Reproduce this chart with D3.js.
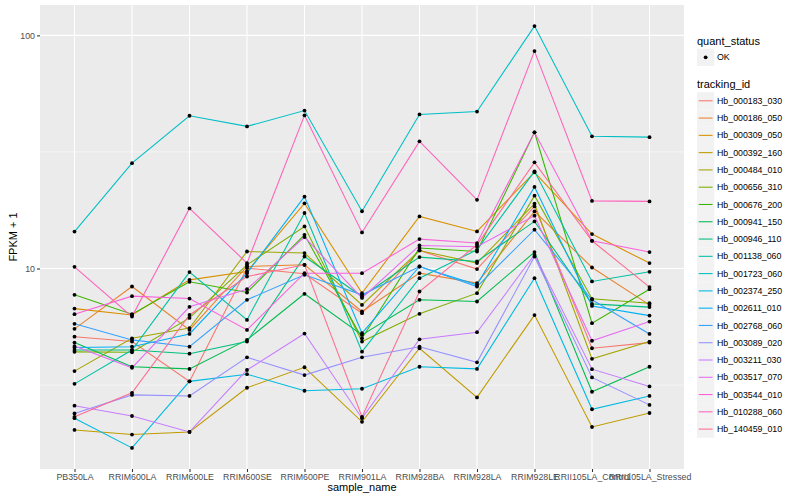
<!DOCTYPE html>
<html>
<head>
<meta charset="utf-8">
<script src="https://cdn.jsdelivr.net/npm/d3@7"></script>
<style>
  body { margin: 0; background: #fff; }
  text { font-family: "Liberation Sans", Arial, sans-serif; }
</style>
</head>
<body>
<div id="chart"></div>
<script>
// categories on the x axis
const samples = ["PB350LA", "RRIM600LA", "RRIM600LE", "RRIM600SE", "RRIM600PE", "RRIM901LA",
  "RRIM928BA", "RRIM928LA", "RRIM928LE", "RRII105LA_Control", "RRII105LA_Stressed"];

// FPKM + 1 per gene, one value per sample
const hb_000183_030 = [5.10, 4.86, 3.28, 10.04, 9.49, 6.43, 11.95, 9.94, 18.47, 4.55, 4.81];
const hb_000186_050 = [5.51, 8.37, 5.45, 10.2, 10.37, 6.54, 9.55, 8.66, 17.58, 10.1, 6.98];
const hb_000309_050 = [6.73, 6.32, 8.94, 9.71, 19.03, 7.84, 16.73, 14.42, 25.85, 14.05, 10.55];
const hb_000392_160 = [2.03, 1.94, 1.99, 3.08, 3.77, 2.20, 4.55, 2.80, 6.31, 2.09, 2.40];
const hb_000484_010 = [3.63, 5.02, 5.55, 11.83, 11.65, 6.98, 11.95, 10.55, 18.97, 4.10, 4.86];
const hb_000656_310 = [4.39, 4.37, 6.14, 10.37, 15.15, 4.86, 6.39, 7.84, 20.53, 7.41, 7.10];
const hb_000676_200 = [7.71, 6.37, 8.77, 7.89, 13.95, 5.02, 12.24, 11.83, 38.4, 5.83, 8.15];
const hb_000941_150 = [4.81, 3.79, 3.71, 4.94, 7.79, 5.19, 7.34, 7.22, 11.76, 2.96, 3.79];
const hb_000946_110 = [4.47, 4.47, 4.31, 4.86, 11.26, 7.58, 11.19, 10.72, 15.92, 7.05, 6.83];
const hb_001138_060 = [3.20, 4.47, 9.65, 6.02, 17.30, 4.40, 9.09, 12.03, 26.11, 8.80, 9.68];
const hb_001723_060 = [14.4, 28.3, 45.2, 40.7, 47.6, 17.6, 45.8, 47.1, 109.6, 36.9, 36.6];
const hb_002374_250 = [2.28, 1.70, 3.28, 3.52, 2.99, 3.05, 3.79, 3.71, 9.09, 2.49, 2.84];
const hb_002611_010 = [4.58, 4.62, 5.24, 9.55, 20.33, 5.28, 10.2, 8.51, 22.38, 6.91, 6.28];
const hb_002768_060 = [5.79, 4.94, 4.62, 7.34, 9.40, 7.71, 10.2, 8.37, 14.67, 7.34, 5.24];
const hb_003089_020 = [2.39, 2.87, 2.84, 4.16, 3.49, 4.16, 4.62, 3.96, 11.26, 3.41, 2.60];
const hb_003211_030 = [2.58, 2.33, 1.99, 3.67, 5.26, 2.28, 4.97, 5.33, 11.45, 3.70, 3.12];
const hb_003517_070 = [4.65, 3.75, 6.85, 8.15, 13.64, 7.48, 12.56, 12.40, 16.85, 4.90, 5.92];
const hb_003544_010 = [6.37, 7.61, 7.43, 5.45, 9.55, 9.55, 13.37, 12.86, 38.4, 13.15, 11.76];
const hb_010288_060 = [10.17, 6.22, 18.1, 10.55, 45.4, 14.28, 35.1, 19.7, 85.6, 19.5, 19.4];
const hb_140459_010 = [2.31, 2.93, 6.32, 9.24, 10.37, 2.31, 7.97, 12.64, 28.54, 13.15, 8.32];

const trackingIds = ["Hb_000183_030", "Hb_000186_050", "Hb_000309_050", "Hb_000392_160",
  "Hb_000484_010", "Hb_000656_310", "Hb_000676_200", "Hb_000941_150", "Hb_000946_110",
  "Hb_001138_060", "Hb_001723_060", "Hb_002374_250", "Hb_002611_010", "Hb_002768_060",
  "Hb_003089_020", "Hb_003211_030", "Hb_003517_070", "Hb_003544_010", "Hb_010288_060",
  "Hb_140459_010"];
const seriesValues = [hb_000183_030, hb_000186_050, hb_000309_050, hb_000392_160, hb_000484_010,
  hb_000656_310, hb_000676_200, hb_000941_150, hb_000946_110, hb_001138_060, hb_001723_060,
  hb_002374_250, hb_002611_010, hb_002768_060, hb_003089_020, hb_003211_030, hb_003517_070,
  hb_003544_010, hb_010288_060, hb_140459_010];

const yTicks = [10, 100];
const yMinor = [Math.pow(10, 0.5), Math.pow(10, 1.5)];

// ggplot hue palette for 20 levels
const palette = ["#F8766D", "#EA8331", "#D89000", "#C09B00", "#A3A500", "#7CAE00", "#39B600",
  "#00BB4E", "#00BF7D", "#00C1A3", "#00BFC4", "#00BAE0", "#00B0F6", "#35A2FF", "#9590FF",
  "#C77CFF", "#E76BF3", "#FA62DB", "#FF62BC", "#FF6C91"];

const series = trackingIds.map((id, i) => ({
  id: id,
  color: palette[i],
  points: samples.map((s, j) => ({ sample: s, value: seriesValues[i][j] }))
}));

const W = 800, H = 500;
const panel = { left: 40, right: 684, top: 5, bottom: 469 };

const svg = d3.select("#chart").append("svg")
  .attr("width", W)
  .attr("height", H);

const x = d3.scalePoint()
  .domain(samples)
  .range([panel.left, panel.right])
  .padding(0.6);

// log scale with 5% expansion like ggplot
const allVals = seriesValues.flat();
const lmin = Math.log10(d3.min(allVals)), lmax = Math.log10(d3.max(allVals));
const pad = (lmax - lmin) * 0.05;
const y = d3.scaleLog()
  .domain([Math.pow(10, lmin - pad), Math.pow(10, lmax + pad)])
  .range([panel.bottom, panel.top]);

// panel background
svg.append("rect")
  .attr("x", panel.left)
  .attr("y", panel.top)
  .attr("width", panel.right - panel.left)
  .attr("height", panel.bottom - panel.top)
  .attr("fill", "#EBEBEB");

const grid = svg.append("g");
grid.selectAll(".minor").data(yMinor).enter().append("line")
  .attr("x1", panel.left).attr("x2", panel.right)
  .attr("y1", d => y(d)).attr("y2", d => y(d))
  .attr("stroke", "#fff").attr("stroke-width", 0.53);
grid.selectAll(".major").data(yTicks).enter().append("line")
  .attr("x1", panel.left).attr("x2", panel.right)
  .attr("y1", d => y(d)).attr("y2", d => y(d))
  .attr("stroke", "#fff").attr("stroke-width", 1.07);
grid.selectAll(".vx").data(samples).enter().append("line")
  .attr("x1", d => x(d)).attr("x2", d => x(d))
  .attr("y1", panel.top).attr("y2", panel.bottom)
  .attr("stroke", "#fff").attr("stroke-width", 1.07);

// lines
const line = d3.line()
  .x(d => x(d.sample))
  .y(d => y(d.value));

svg.append("g").selectAll("path").data(series).enter().append("path")
  .attr("d", d => line(d.points))
  .attr("fill", "none")
  .attr("stroke", d => d.color)
  .attr("stroke-width", 1.07);

// points
svg.append("g").selectAll("g").data(series).enter().append("g")
  .selectAll("circle").data(d => d.points).enter().append("circle")
  .attr("cx", d => x(d.sample))
  .attr("cy", d => y(d.value))
  .attr("r", 1.9)
  .attr("fill", "#000");

// axes
const xAxis = svg.append("g")
  .attr("transform", "translate(0," + panel.bottom + ")")
  .call(d3.axisBottom(x).tickSize(3).tickPadding(2));
const yAxis = svg.append("g")
  .attr("transform", "translate(" + panel.left + ",0)")
  .call(d3.axisLeft(y).tickValues(yTicks).tickFormat(d3.format("d")).tickSize(3).tickPadding(2));

[xAxis, yAxis].forEach(a => {
  a.select(".domain").remove();
  a.selectAll(".tick line").attr("stroke", "#333333").attr("stroke-width", 1.07);
  a.selectAll(".tick text")
    .attr("fill", "#4D4D4D")
    .attr("font-size", 8.8)
    .attr("font-family", "Liberation Sans, Arial, sans-serif");
});

svg.append("text")
  .attr("x", (panel.left + panel.right) / 2)
  .attr("y", 491)
  .attr("text-anchor", "middle")
  .attr("font-size", 11)
  .attr("fill", "#000")
  .text("sample_name");

svg.append("text")
  .attr("transform", "translate(17," + ((panel.top + panel.bottom) / 2) + ") rotate(-90)")
  .attr("text-anchor", "middle")
  .attr("font-size", 11)
  .attr("fill", "#000")
  .text("FPKM + 1");

// legend
const leg = svg.append("g");
const keyX = 697, keySize = 17.28, labelX = 717;

leg.append("text")
  .attr("x", keyX).attr("y", 44.5)
  .attr("font-size", 11).attr("fill", "#000")
  .text("quant_status");
leg.append("rect")
  .attr("x", keyX).attr("y", 57.3 - keySize / 2)
  .attr("width", keySize).attr("height", keySize)
  .attr("fill", "#F2F2F2");
leg.append("circle")
  .attr("cx", keyX + keySize / 2).attr("cy", 57.3)
  .attr("r", 1.9).attr("fill", "#000");
leg.append("text")
  .attr("x", labelX).attr("y", 60.4)
  .attr("font-size", 8.8).attr("fill", "#000")
  .text("OK");

leg.append("text")
  .attr("x", keyX).attr("y", 88.2)
  .attr("font-size", 11).attr("fill", "#000")
  .text("tracking_id");

const keys = leg.selectAll(".key").data(series).enter().append("g")
  .attr("transform", (d, i) => "translate(0," + (100.8 + i * keySize) + ")");
keys.append("rect")
  .attr("x", keyX).attr("y", -keySize / 2)
  .attr("width", keySize).attr("height", keySize)
  .attr("fill", "#F2F2F2");
keys.append("line")
  .attr("x1", keyX + 1.7).attr("x2", keyX + keySize - 1.7)
  .attr("y1", 0).attr("y2", 0)
  .attr("stroke", d => d.color).attr("stroke-width", 1.07);
keys.append("text")
  .attr("x", labelX).attr("y", 3.1)
  .attr("font-size", 8.8).attr("fill", "#000")
  .text(d => d.id);
</script>
</body>
</html>
